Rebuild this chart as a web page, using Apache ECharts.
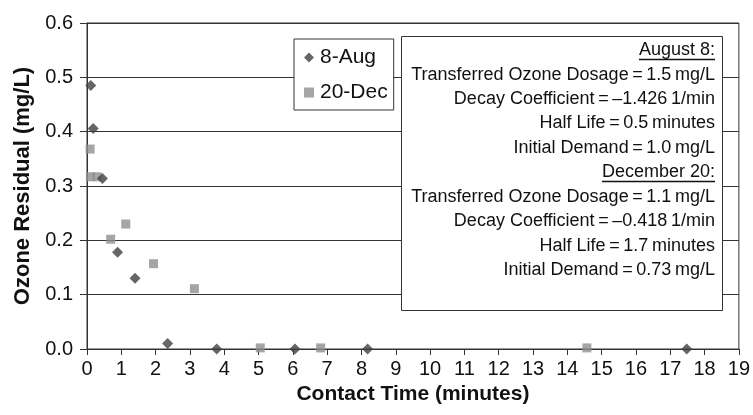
<!DOCTYPE html>
<html><head><meta charset="utf-8">
<script src="https://cdn.jsdelivr.net/npm/echarts@6/dist/echarts.min.js"></script>
<style>html,body{margin:0;padding:0;background:#fff}#c{width:753px;height:415px}</style>
</head><body><div id="c"></div>
<script>
var augX = [0.11, 0.18, 0.45, 0.89, 1.40, 2.35, 3.78, 6.06, 8.18, 17.48];
var augY = [0.485, 0.406, 0.314, 0.178, 0.130, 0.010, 0.000, 0.000, 0.000, 0.000];
var decX = [0.09, 0.10, 0.29, 0.69, 1.13, 1.94, 3.13, 5.05, 6.81, 14.57];
var decY = [0.368, 0.317, 0.317, 0.202, 0.230, 0.157, 0.111, 0.002, 0.002, 0.002];
var seriesNames = ['8-Aug', '20-Dec'];
var xTitle = 'Contact Time (minutes)';
var yTitle = 'Ozone Residual (mg/L)';
var ts = '\u2009';
var boxLines = [
  {t: 'August 8:', u: true},
  {t: 'Transferred Ozone Dosage' + ts + '=' + ts + '1.5' + ts + 'mg/L'},
  {t: 'Decay Coefficient' + ts + '=' + ts + '\u20131.426' + ts + '1/min'},
  {t: 'Half Life' + ts + '=' + ts + '0.5' + ts + 'minutes'},
  {t: 'Initial Demand' + ts + '=' + ts + '1.0' + ts + 'mg/L'},
  {t: 'December 20:', u: true},
  {t: 'Transferred Ozone Dosage' + ts + '=' + ts + '1.1' + ts + 'mg/L'},
  {t: 'Decay Coefficient' + ts + '=' + ts + '\u20130.418' + ts + '1/min'},
  {t: 'Half Life' + ts + '=' + ts + '1.7' + ts + 'minutes'},
  {t: 'Initial Demand' + ts + '=' + ts + '0.73' + ts + 'mg/L'}
];
var lineY = [50, 75, 99, 123.5, 148, 172, 197, 221.5, 246, 270];

var FONT = '"Liberation Sans", Arial, sans-serif';
var boxFont = '18px ' + FONT;
var ctx = document.createElement('canvas').getContext('2d');
ctx.font = boxFont;

var graphics = [{
  type: 'rect', z: 100,
  shape: {x: 401.5, y: 36.5, width: 321, height: 274},
  style: {fill: '#fff', stroke: '#333', lineWidth: 1}
}];
var textRight = 715;
boxLines.forEach(function (l, i) {
  graphics.push({
    type: 'text', z: 101, x: textRight, y: lineY[i],
    style: {text: l.t, font: boxFont, fill: '#111', textAlign: 'right', textVerticalAlign: 'middle'}
  });
  if (l.u) {
    var w = ctx.measureText(l.t).width;
    graphics.push({
      type: 'line', z: 101,
      shape: {x1: textRight - w, y1: lineY[i] + 9.5, x2: textRight, y2: lineY[i] + 9.5},
      style: {stroke: '#111', lineWidth: 1.3}
    });
  }
});

function pairs(xs, ys) { return xs.map(function (x, i) { return [x, ys[i]]; }); }

var chart = echarts.init(document.getElementById('c'), null, {renderer: 'canvas'});
chart.setOption({
  animation: false,
  backgroundColor: '#fff',
  textStyle: {fontFamily: FONT},
  grid: {left: 87, right: 14, top: 23, bottom: 66, show: true, borderColor: '#333', borderWidth: 1, backgroundColor: 'transparent'},
  legend: {
    orient: 'vertical', left: 294, top: 39,
    padding: [8, 6, 7, 10], itemGap: 14,
    itemWidth: 10, itemHeight: 10,
    backgroundColor: '#fff', borderColor: '#333', borderWidth: 1, borderRadius: 0,
    textStyle: {fontSize: 21, color: '#111', fontFamily: FONT, padding: [0, 0, 0, 1]},
    data: [{name: seriesNames[0], icon: 'diamond'}, {name: seriesNames[1], icon: 'rect'}]
  },
  xAxis: {
    type: 'value', min: 0, max: 19, interval: 1,
    name: xTitle, nameLocation: 'middle', nameGap: 27,
    nameTextStyle: {fontSize: 21, fontWeight: 'bold', color: '#111', fontFamily: FONT},
    axisLine: {show: true, onZero: false, lineStyle: {color: '#333', width: 1}},
    axisTick: {show: true, length: 6, lineStyle: {color: '#333'}},
    axisLabel: {fontSize: 20, color: '#111', margin: 10, interval: 0, hideOverlap: false},
    splitLine: {show: false}
  },
  yAxis: {
    type: 'value', min: 0, max: 0.6, interval: 0.1,
    name: yTitle, nameLocation: 'middle', nameGap: 52,
    nameTextStyle: {fontSize: 22, fontWeight: 'bold', color: '#111', fontFamily: FONT},
    axisLine: {show: true, lineStyle: {color: '#333', width: 1}},
    axisTick: {show: true, length: 7, lineStyle: {color: '#333'}},
    axisLabel: {fontSize: 20, color: '#111', margin: 14, formatter: function (v) { return v.toFixed(1); }},
    splitLine: {show: true, lineStyle: {color: '#333', width: 1}}
  },
  series: [
    {name: seriesNames[0], type: 'scatter', symbol: 'diamond', symbolSize: 11, z: 3,
     itemStyle: {color: '#404040'}, data: pairs(augX, augY)},
    {name: seriesNames[1], type: 'scatter', symbol: 'rect', symbolSize: 9, z: 2,
     itemStyle: {color: '#8e8e8e'}, data: pairs(decX, decY)}
  ],
  graphic: graphics
});
</script></body></html>
